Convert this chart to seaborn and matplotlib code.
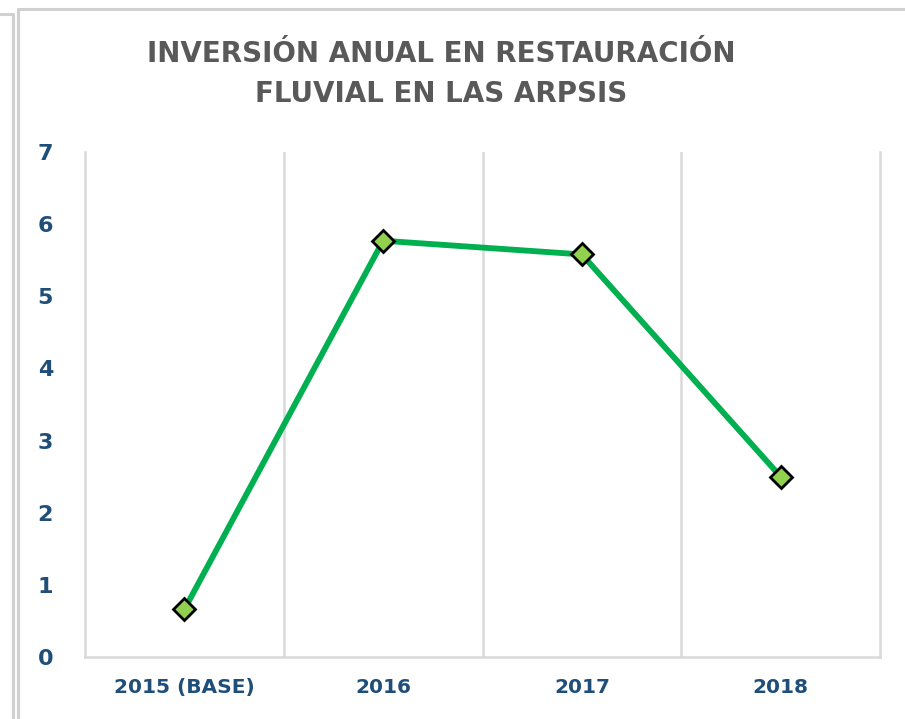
import matplotlib
matplotlib.use("Agg")
import matplotlib.pyplot as plt
import seaborn as sns
import pandas as pd
from matplotlib.lines import Line2D

# data
years = ["2015 (BASE)", "2016", "2017", "2018"]
inversion = [0.66, 5.77, 5.58, 2.50]
title = "INVERSIÓN ANUAL EN RESTAURACIÓN\nFLUVIAL EN LAS ARPSIS"

df = pd.DataFrame({"Año": years, "Inversión": inversion})

sns.set_theme(style="white")
plt.rcParams["font.family"] = ["DejaVu Sans"]

fig = plt.figure(figsize=(9.05, 7.19), dpi=100)
ax = fig.add_axes([85 / 905, 1 - 657 / 719, 795 / 905, 505 / 719])

sns.lineplot(data=df, x="Año", y="Inversión", ax=ax, color="#00b050",
             linewidth=4.2, marker="D", markersize=11.5,
             markerfacecolor="#92d050", markeredgecolor="black",
             markeredgewidth=2, sort=False)

ax.set_xlim(-0.5, 3.5)
ax.set_ylim(0, 7)
ax.set_yticks(range(0, 8))
ax.set_xlabel("")
ax.set_ylabel("")

# vertical grid lines at category boundaries
ax.set_xticks([0.5, 1.5, 2.5], minor=True)
ax.grid(True, axis="x", which="minor", color="#d9d9d9", linewidth=1.8)
ax.grid(False, axis="y")
ax.tick_params(which="both", length=0)
for side in ["left", "right", "bottom"]:
    ax.spines[side].set_color("#d9d9d9")
    ax.spines[side].set_linewidth(1.8)
ax.spines["top"].set_visible(False)

blue = "#1f4e79"
ax.tick_params(axis="y", labelsize=16, labelcolor=blue, pad=23)
ax.tick_params(axis="x", labelsize=14.5, labelcolor=blue, pad=15)
for lab in ax.get_yticklabels() + ax.get_xticklabels():
    lab.set_fontweight("bold")

fig.text(441 / 905, 1 - 74 / 719, title, ha="center", va="center",
         fontsize=20, fontweight="bold", color="#595959", linespacing=1.55)

# frame lines of the screenshot
gray = "#d0d0d0"
fig.add_artist(Line2D([18 / 905, 18 / 905, 1], [0, 1 - 9 / 719, 1 - 9 / 719],
                      color=gray, linewidth=2.2, transform=fig.transFigure))
fig.add_artist(Line2D([0, 13 / 905, 13 / 905], [1 - 14 / 719, 1 - 14 / 719, 0],
                      color=gray, linewidth=2.2, transform=fig.transFigure))

fig.savefig("out.png", dpi=100, facecolor="white")
